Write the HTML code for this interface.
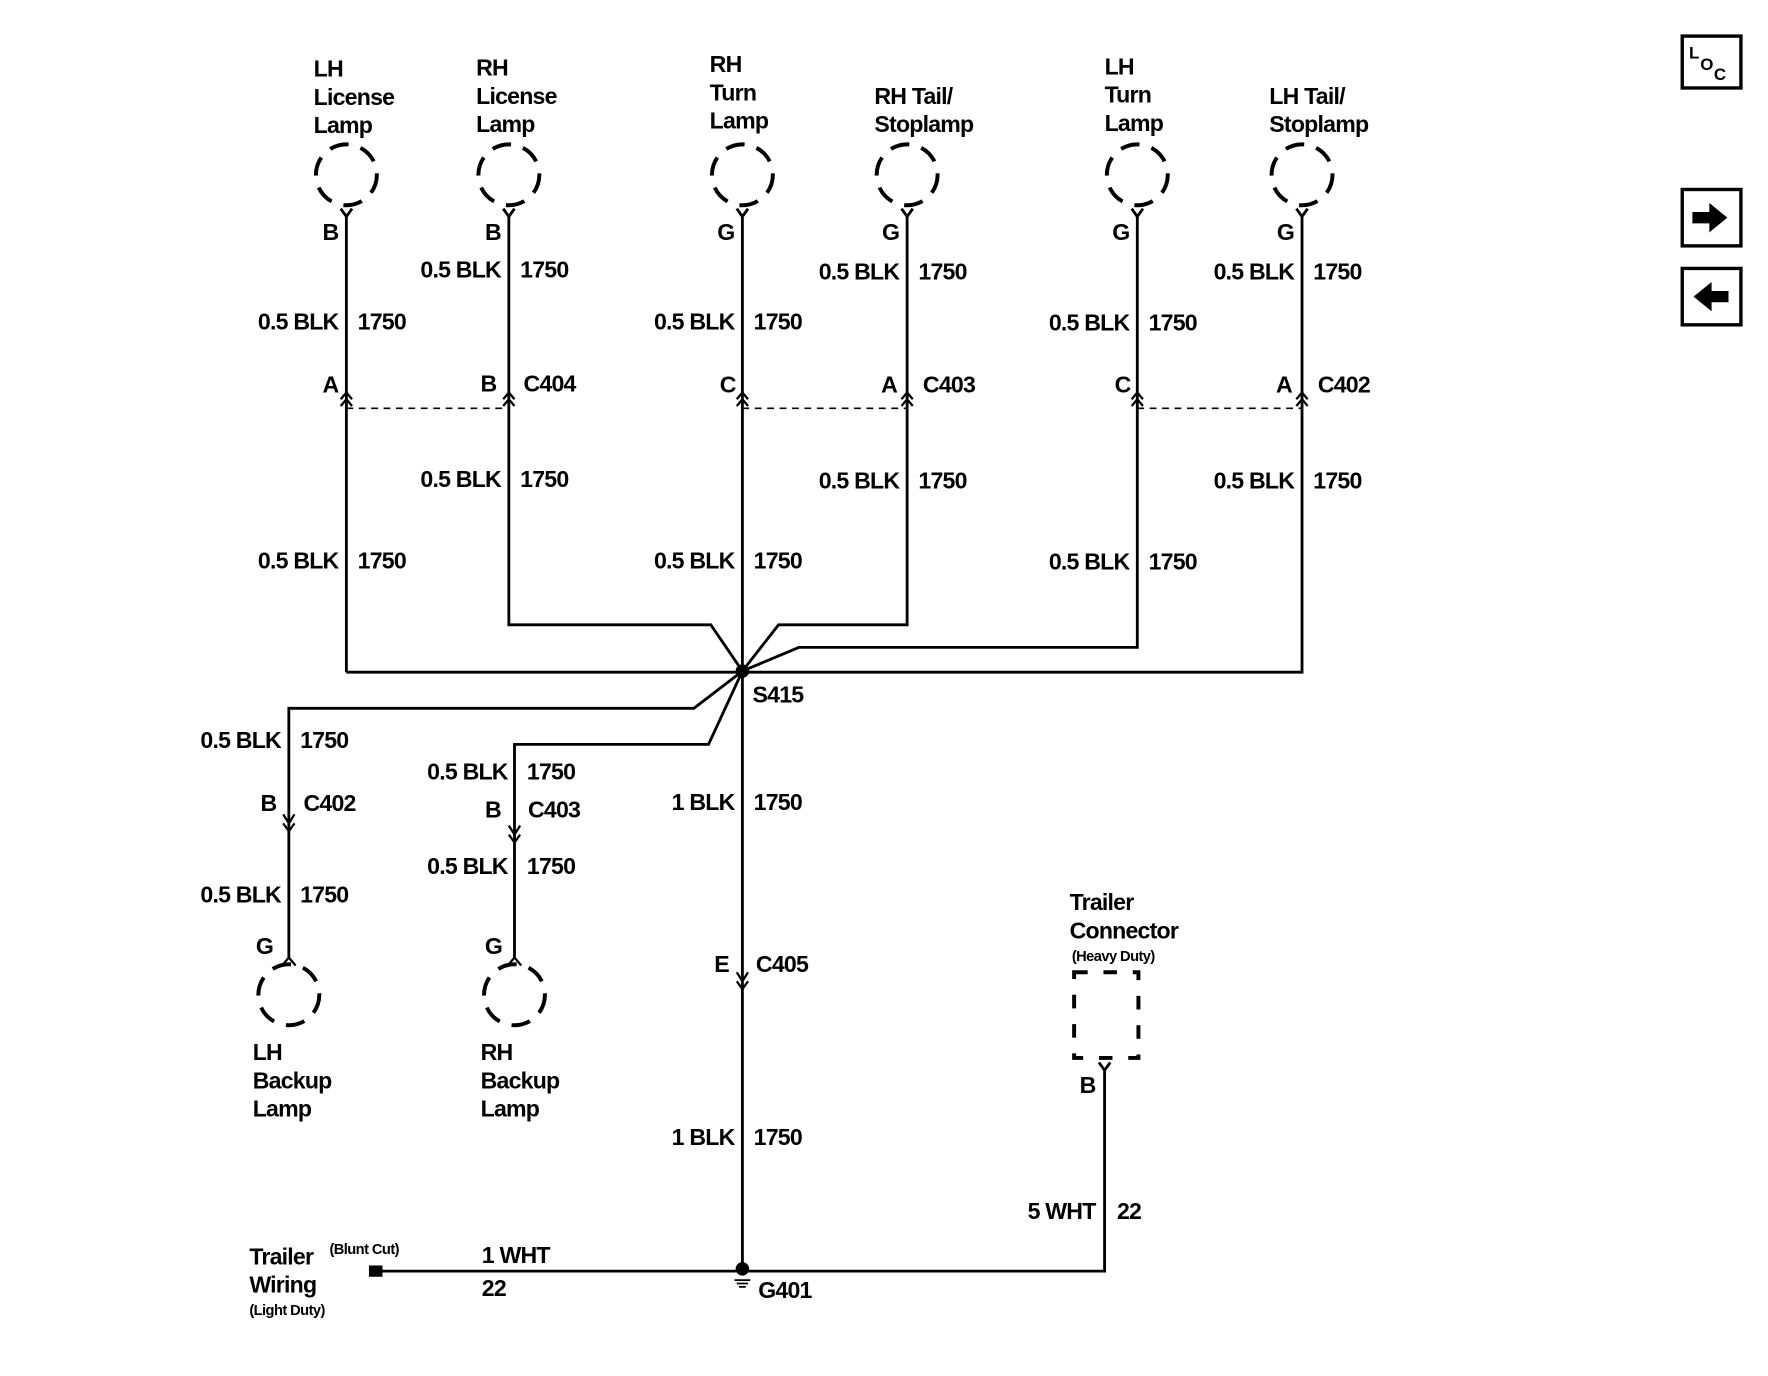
<!DOCTYPE html>
<html><head><meta charset="utf-8"><style>
html,body{margin:0;padding:0;background:#fff;width:1768px;height:1376px;overflow:hidden}
svg{display:block}
text{font-family:"Liberation Sans",sans-serif;font-size:20.5px;font-weight:bold;fill:#000;letter-spacing:-0.7px}
.s{font-size:13px;letter-spacing:-0.5px}
</style></head><body>
<svg width="1768" height="1376" viewBox="0 0 1567 1220" preserveAspectRatio="none" xmlns="http://www.w3.org/2000/svg">
<g fill="none" stroke="#000" stroke-width="2.5" stroke-linecap="butt">
<g stroke-width="3.5" stroke-dasharray="17 11">
<circle cx="307" cy="155" r="27"/><circle cx="451" cy="155" r="27"/><circle cx="658" cy="155" r="27"/>
<circle cx="804" cy="155" r="27"/><circle cx="1008" cy="155" r="27"/><circle cx="1154" cy="155" r="27"/>
<circle cx="256" cy="882" r="27"/><circle cx="456" cy="882" r="27"/>
</g>
<rect x="952" y="862" width="57" height="76" stroke-width="3.5" stroke-dasharray="12 14"/>
<path d="M302,185 L307,192 L312,185 M446,185 L451,192 L456,185 M653,185 L658,192 L663,185 M799,185 L804,192 L809,185 M1003,185 L1008,192 L1013,185 M1149,185 L1154,192 L1159,185 M974,942 L979,949 L984,942"/>
<path d="M307,192 V596 M451,192 V554 H630 L658,595 M658,192 V1125 M804,192 V554 H690 L658,595 M1008,192 V574 H708 L658,595 M1154,192 V596 H307"/>
<g stroke-width="2">
<path d="M302,354 L307,348 L312,354 M302,360 L307,354 L312,360"/>
<path d="M446,354 L451,348 L456,354 M446,360 L451,354 L456,360"/>
<path d="M653,354 L658,348 L663,354 M653,360 L658,354 L663,360"/>
<path d="M799,354 L804,348 L809,354 M799,360 L804,354 L809,360"/>
<path d="M1003,354 L1008,348 L1013,354 M1003,360 L1008,354 L1013,360"/>
<path d="M1149,354 L1154,348 L1159,354 M1149,360 L1154,354 L1159,360"/>
</g>
<path d="M307,362 H451 M658,362 H804 M1008,362 H1154" stroke-width="1.5" stroke-dasharray="6 5"/>
<path d="M658,595 L615,628 H256 V850 M658,595 L628,660 H456 V850"/>
<g stroke-width="2">
<path d="M251,722 L256,730 L261,722 M251,730 L256,737 L261,730"/>
<path d="M451,732 L456,740 L461,732 M451,740 L456,747 L461,740"/>
<path d="M653,862 L658,870 L663,862 M653,870 L658,877 L663,870"/>
<path d="M250,856 L256,849 L262,856 M450,856 L456,849 L462,856"/>
</g>
<path d="M333,1127 H658 H979 V949"/>
<path d="M651,1135 H665 M653,1138 H663 M655,1141 H661" stroke-width="1.5"/>
<rect x="1491" y="32" width="52" height="46" stroke-width="3"/>
<rect x="1491" y="168" width="52" height="50" stroke-width="3"/>
<rect x="1491" y="238" width="52" height="50" stroke-width="3"/>
</g>
<circle cx="658" cy="595" r="6" fill="#000"/>
<circle cx="658" cy="1125" r="6" fill="#000"/>
<rect x="327" y="1122" width="12" height="10" fill="#000"/>
<path d="M1500,188 H1515 V180 L1531,193 L1515,206 V198 H1500 Z" fill="#000"/>
<path d="M1532,258 H1517 V250 L1501,263 L1517,276 V268 H1532 Z" fill="#000"/>
<text x="1497" y="52" class="s" style="font-size:15px">L</text>
<text x="1507" y="62" class="s" style="font-size:15px">O</text>
<text x="1519" y="71" class="s" style="font-size:15px">C</text>

<text x="278" y="68">LH</text><text x="278" y="93">License</text><text x="278" y="118">Lamp</text>
<text x="422" y="67">RH</text><text x="422" y="92">License</text><text x="422" y="117">Lamp</text>
<text x="629" y="64">RH</text><text x="629" y="89">Turn</text><text x="629" y="114">Lamp</text>
<text x="775" y="92">RH Tail/</text><text x="775" y="117">Stoplamp</text>
<text x="979" y="66">LH</text><text x="979" y="91">Turn</text><text x="979" y="116">Lamp</text>
<text x="1125" y="92">LH Tail/</text><text x="1125" y="117">Stoplamp</text>

<text x="300" y="213" text-anchor="end">B</text>
<text x="444" y="213" text-anchor="end">B</text>
<text x="651" y="213" text-anchor="end">G</text>
<text x="797" y="213" text-anchor="end">G</text>
<text x="1001" y="213" text-anchor="end">G</text>
<text x="1147" y="213" text-anchor="end">G</text>

<text x="300" y="292" text-anchor="end">0.5 BLK</text><text x="317" y="292">1750</text>
<text x="444" y="246" text-anchor="end">0.5 BLK</text><text x="461" y="246">1750</text>
<text x="651" y="292" text-anchor="end">0.5 BLK</text><text x="668" y="292">1750</text>
<text x="797" y="248" text-anchor="end">0.5 BLK</text><text x="814" y="248">1750</text>
<text x="1001" y="293" text-anchor="end">0.5 BLK</text><text x="1018" y="293">1750</text>
<text x="1147" y="248" text-anchor="end">0.5 BLK</text><text x="1164" y="248">1750</text>

<text x="444" y="432" text-anchor="end">0.5 BLK</text><text x="461" y="432">1750</text>
<text x="797" y="433" text-anchor="end">0.5 BLK</text><text x="814" y="433">1750</text>
<text x="1147" y="433" text-anchor="end">0.5 BLK</text><text x="1164" y="433">1750</text>
<text x="300" y="504" text-anchor="end">0.5 BLK</text><text x="317" y="504">1750</text>
<text x="651" y="504" text-anchor="end">0.5 BLK</text><text x="668" y="504">1750</text>
<text x="1001" y="505" text-anchor="end">0.5 BLK</text><text x="1018" y="505">1750</text>

<text x="300" y="348" text-anchor="end">A</text>
<text x="440" y="347" text-anchor="end">B</text><text x="464" y="347">C404</text>
<text x="652" y="348" text-anchor="end">C</text>
<text x="795" y="348" text-anchor="end">A</text><text x="818" y="348">C403</text>
<text x="1002" y="348" text-anchor="end">C</text>
<text x="1145" y="348" text-anchor="end">A</text><text x="1168" y="348">C402</text>

<text x="667" y="623">S415</text>

<text x="249" y="663" text-anchor="end">0.5 BLK</text><text x="266" y="663">1750</text>
<text x="245" y="719" text-anchor="end">B</text><text x="269" y="719">C402</text>
<text x="249" y="800" text-anchor="end">0.5 BLK</text><text x="266" y="800">1750</text>
<text x="242" y="846" text-anchor="end">G</text>

<text x="450" y="691" text-anchor="end">0.5 BLK</text><text x="467" y="691">1750</text>
<text x="444" y="725" text-anchor="end">B</text><text x="468" y="725">C403</text>
<text x="450" y="775" text-anchor="end">0.5 BLK</text><text x="467" y="775">1750</text>
<text x="445" y="846" text-anchor="end">G</text>

<text x="651" y="718" text-anchor="end">1 BLK</text><text x="668" y="718">1750</text>
<text x="646" y="862" text-anchor="end">E</text><text x="670" y="862">C405</text>
<text x="651" y="1015" text-anchor="end">1 BLK</text><text x="668" y="1015">1750</text>

<text x="224" y="940">LH</text><text x="224" y="965">Backup</text><text x="224" y="990">Lamp</text>
<text x="426" y="940">RH</text><text x="426" y="965">Backup</text><text x="426" y="990">Lamp</text>

<text x="948" y="807">Trailer</text><text x="948" y="832">Connector</text>
<text x="950" y="852" class="s">(Heavy Duty)</text>
<text x="971" y="969" text-anchor="end">B</text>
<text x="971" y="1081" text-anchor="end">5 WHT</text><text x="990" y="1081">22</text>

<text x="221" y="1121">Trailer</text><text x="221" y="1146">Wiring</text>
<text x="221" y="1166" class="s">(Light Duty)</text>
<text x="292" y="1112" class="s">(Blunt Cut)</text>
<text x="427" y="1120">1 WHT</text><text x="427" y="1149">22</text>
<text x="672" y="1151">G401</text>
</svg>
</body></html>
